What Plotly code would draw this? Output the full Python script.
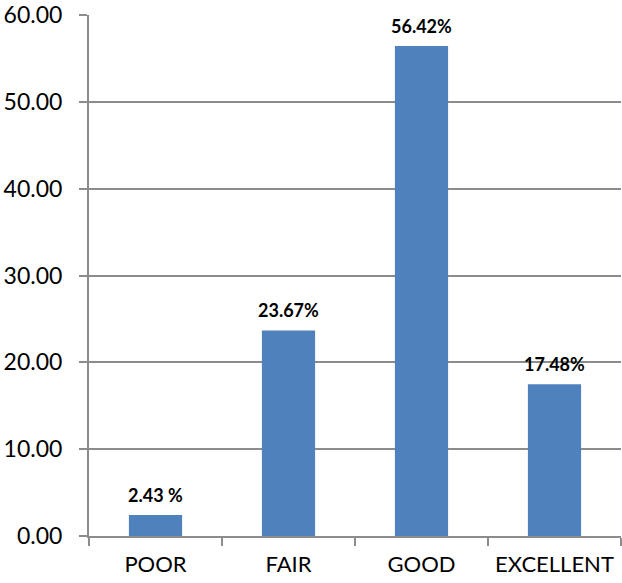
import plotly.graph_objects as go

categories = ["POOR", "FAIR", "GOOD", "EXCELLENT"]
values = [2.43, 23.67, 56.42, 17.48]
labels = ["2.43 %", "23.67%", "56.42%", "17.48%"]
y_ticks = [0, 10, 20, 30, 40, 50, 60]
y_tick_text = ["0.00", "10.00", "20.00", "30.00", "40.00", "50.00", "60.00"]

fig = go.Figure()
fig.add_trace(go.Bar(
    x=categories, y=values, width=0.4,
    marker=dict(color="#4F81BD", line=dict(width=0)),
))
for c, v, t in zip(categories, values, labels):
    fig.add_annotation(x=c, y=v, text="<b>" + t + "</b>", showarrow=False,
                       yanchor="bottom", yshift=7,
                       font=dict(family="Lato", size=18, color="#000000"))

fig.update_layout(
    width=622, height=583,
    margin=dict(l=89, r=1, t=15, b=47),
    plot_bgcolor="white", paper_bgcolor="white",
    showlegend=False,
    font=dict(family="Lato", color="#000000"),
    xaxis=dict(
        type="category", tickson="boundaries", ticks="outside", ticklen=8,
        tickcolor="#8c8c8c", tickwidth=2, showline=True, linecolor="#8c8c8c", linewidth=2,
        showgrid=False, ticklabelstandoff=8,
        tickfont=dict(family="Lato", size=22, color="#000000"),
    ),
    yaxis=dict(
        range=[0, 60], tickvals=y_ticks, ticktext=y_tick_text,
        ticks="outside", ticklen=8, tickcolor="#8c8c8c", tickwidth=2,
        showline=True, linecolor="#8c8c8c", linewidth=2,
        showgrid=True, gridcolor="#8c8c8c", gridwidth=2,
        zeroline=False, ticklabelstandoff=12, ticklabeloverflow="allow",
        tickfont=dict(family="Lato", size=23, color="#000000"),
    ),
)
fig.write_html("out.html")
